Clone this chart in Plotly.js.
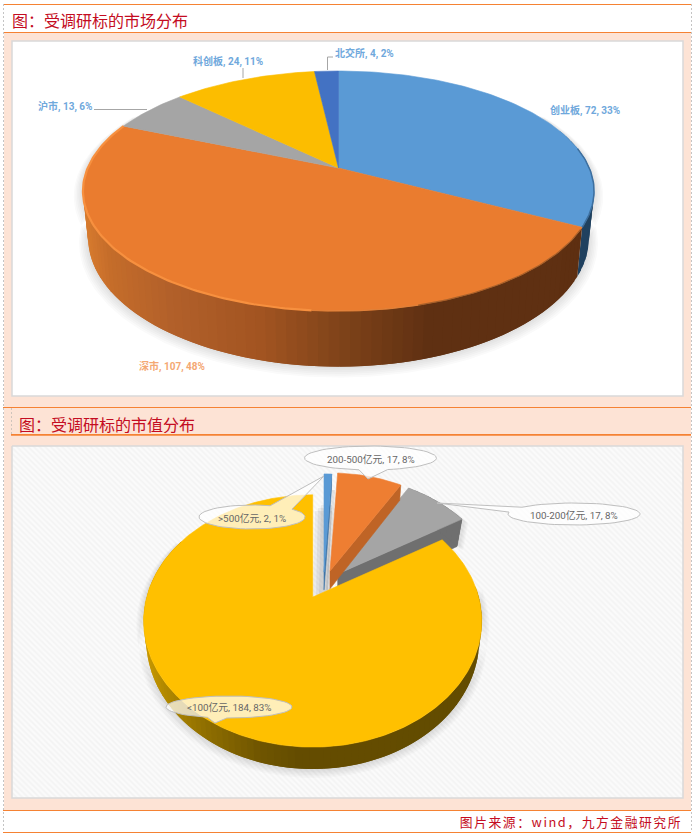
<!DOCTYPE html>
<html>
<head>
<meta charset="utf-8">
<script src="https://cdn.plot.ly/plotly-3.0.1.min.js"></script>
<style>
html,body{margin:0;padding:0;background:#fff;}
#chart{width:694px;height:837px;}
.annotation[data-index="11"] text{letter-spacing:1.55px;}
</style>
</head>
<body>
<div id="chart"></div>
<script>
// ---- data ----
var marketNames  = ['创业板', '深市', '沪市', '科创板', '北交所'];
var marketValues = [72, 107, 13, 24, 4];
var marketPct    = [33, 48, 6, 11, 2];
var marketColors = ['#5a9ad5', '#ea7c2f', '#a5a5a5', '#fcbd00', '#4372c3'];

var capNames  = ['>500亿元', '200-500亿元', '100-200亿元', '<100亿元'];
var capValues = [2, 17, 17, 184];
var capPct    = [1, 8, 8, 83];
var capColors = ['#5a9ad5', '#ee7e32', '#a5a5a5', '#ffc000'];

var title1 = '图：受调研标的市场分布';
var title2 = '图：受调研标的市值分布';
var source = '图片来源：wind，九方金融研究所';

// ---- drawing helpers ----
var traces = [], shapes = [], annotations = [];

function project(c, deg, bottom) {
  var t = deg * Math.PI / 180, u = Math.sin(t), v = Math.cos(t), d = 1 + c.k * v;
  var s = c.s || 1;
  var x = c.ax + c.A * s * u / d, y = c.ay - c.B * s * v / d;
  if (bottom) { x = c.ax + (x - c.ax) * c.m; y += c.H / d; }
  return [x, y];
}
function poly(points, fill, opts) {
  opts = opts || {};
  var xs = points.map(function (p) { return p[0]; });
  var ys = points.map(function (p) { return p[1]; });
  xs.push(xs[0]); ys.push(ys[0]);
  var t = {
    type: 'scatter', mode: 'lines', x: xs, y: ys, fill: 'toself', fillcolor: fill,
    line: { color: opts.line || fill, width: opts.lw === undefined ? 0.6 : opts.lw },
    hoverinfo: 'skip', showlegend: false
  };
  if (opts.pattern) t.fillpattern = opts.pattern;
  traces.push(t);
}
function line(xs, ys, color, width) {
  traces.push({ type: 'scatter', mode: 'lines', x: xs, y: ys, line: { color: color, width: width }, hoverinfo: 'skip', showlegend: false });
}
function arc(c, a0, a1, bottom) {
  var pts = [], n = Math.max(2, Math.ceil(Math.abs(a1 - a0)));
  for (var i = 0; i <= n; i++) pts.push(project(c, a0 + (a1 - a0) * i / n, bottom));
  return pts;
}
function arcLine(c, a0, a1, color, width) {
  var p = arc(c, a0, a1);
  line(p.map(function (q) { return q[0]; }), p.map(function (q) { return q[1]; }), color, width);
}
function topFace(c, a0, a1, color) {
  poly([[c.ax, c.ay]].concat(arc(c, a0, a1)), color);
}
function mix(stops, x) {
  var i = 0;
  if (x <= stops[0][0]) return stops[0][1];
  while (i < stops.length - 1 && x > stops[i + 1][0]) i++;
  if (i === stops.length - 1) return stops[i][1];
  var a = stops[i], b = stops[i + 1], f = (x - a[0]) / (b[0] - a[0]);
  var h = function (s, p) { return parseInt(s.substr(p, 2), 16); };
  var o = [1, 3, 5].map(function (p) { return Math.round(h(a[1], p) * (1 - f) + h(b[1], p) * f); });
  return 'rgb(' + o.join(',') + ')';
}
// strips are painted from a0 to a1, each overlapping the next, so no seam shows
function wall(c, a0, a1, stops, step) {
  for (var a = a0; a < a1 - 1e-6; a += step) {
    var e = Math.min(a + step + 2, a1);
    var top = arc(c, a, e), bot = arc(c, a, e, true).reverse();
    var midx = project(c, a + step / 2)[0];
    poly(top.concat(bot), mix(stops, midx), { lw: 0 });
  }
}
function cutWall(c, deg, color) {
  var tip = project(c, deg), tipB = project(c, deg, true);
  poly([[c.ax, c.ay], tip, tipB, [c.ax, c.ay + c.H]], color);
}
function shadow(c, a0, a1, grow, dy, alpha) {
  var g = Object.assign({}, c, { A: c.A + grow, B: c.B + grow * 0.6, ay: c.ay + dy });
  poly(arc(g, a0, a1, true).concat(arc(g, a1, a0)), 'rgba(60,60,60,' + alpha + ')', { lw: 0 });
}
function callout(cx, cy, rx, ry, tipx, tipy, a1, a2) {
  var pts = [], n = 60;
  for (var i = 0; i <= n; i++) {
    var a = (a2 + (a1 + 360 - a2) * i / n) * Math.PI / 180;
    pts.push([cx + rx * Math.cos(a), cy + ry * Math.sin(a)]);
  }
  pts.push([tipx, tipy]);
  poly(pts, 'rgba(255,255,255,0.72)', { line: '#bfbfbf', lw: 1 });
}
function cum(values) {
  var total = values.reduce(function (a, b) { return a + b; }, 0), s = 0;
  return values.map(function (v) { var a = s; s += v; return [a / total * 360, s / total * 360]; });
}
function label(x, y, text, color, size, extra) {
  annotations.push(Object.assign({
    x: x, y: y, xref: 'x', yref: 'y', text: text, showarrow: false, xanchor: 'center', yanchor: 'middle',
    font: { family: 'Roboto, "Noto Sans CJK SC", sans-serif', size: size, color: color }
  }, extra || {}));
}
function rule(x0, y0, x1, y1, color, width, dash) {
  shapes.push({ type: 'line', x0: x0, y0: y0, x1: x1, y1: y1, layer: 'below',
    line: { color: color, width: width, dash: dash || 'solid' } });
}

// ---- page frame ----
var ORANGE = '#f58233', PEACH = '#fde3d5', EDGE = '#d9d9d9';
shapes.push({ type: 'rect', x0: 4, x1: 691, y0: 33, y1: 810, fillcolor: PEACH, line: { width: 0 }, layer: 'below' });
shapes.push({ type: 'rect', x0: 12, x1: 683, y0: 41, y1: 396, fillcolor: '#ffffff', line: { color: EDGE, width: 1.5 }, layer: 'below' });
rule(3, 4.5, 691, 4.5, ORANGE, 1.2);
rule(3, 32.5, 691, 32.5, ORANGE, 1.2);
rule(3, 407.5, 691, 407.5, ORANGE, 1.2);
rule(11, 434.8, 691, 434.8, ORANGE, 1.8);
rule(3, 810.5, 691, 810.5, ORANGE, 1.2);
rule(3, 832.5, 691, 832.5, ORANGE, 1.2);
rule(3.5, 4, 3.5, 832, '#c4c4c4', 1, '2px,2px');
rule(691.5, 4, 691.5, 832, '#c4c4c4', 1, '2px,2px');
rule(11.5, 408, 11.5, 434, '#cfc4bc', 1, '2px,2px');

// second panel background
poly([[12, 446], [683, 446], [683, 798], [12, 798]], '#fafafa', {
  line: EDGE, lw: 1.5,
  pattern: { shape: '\\', fgcolor: '#f3f3f3', bgcolor: '#fbfbfb', size: 4, solidity: 0.4 }
});

// ---- chart 1: market ----
var c1 = { ax: 338.5, ay: 168, A: 250.8, B: 115.6, k: 0.1917, H: 45, m: 0.98 };
var a1 = cum(marketValues);
for (var i = 1; i <= 6; i++) shadow(c1, 60, 300, i * 1.5, i * 0.7, 0.024);
wall(c1, 70, a1[0][1], [[0, '#20415f']], 3);
wall(c1, a1[1][0], a1[1][1], [[85, '#d67a2e'], [110, '#c46c2a'], [170, '#b2602a'], [260, '#a25421'], [340, '#7f4319'], [430, '#5f3012'], [700, '#5e2f11']], 2);
marketValues.forEach(function (v, i) { topFace(c1, a1[i][0], a1[i][1], marketColors[i]); });
// soft edges of the top face: lit on the left, dark on the right
arcLine(c1, a1[1][0] + 1, 165, '#a8602a', 1.2);
arcLine(c1, 165, 185, '#e08038', 1.2);
arcLine(c1, 185, a1[1][1], '#f7903f', 2.2);
arcLine(c1, 80, a1[0][1], '#3d6f9f', 1.5);

// leader lines
line([94, 147], [109.5, 109.5], '#a6a6a6', 1);
line([243, 243], [68, 78], '#a6a6a6', 1);
line([333, 327.5, 327.5], [57, 57, 70], '#a6a6a6', 1);

var LABEL_POS_1 = [[584.5, 110], [172, 366], [65, 106], [227.5, 61.5], [364.5, 53]];
marketNames.forEach(function (n, i) {
  var color = i === 1 ? '#f4a873' : '#6fa8dc';
  label(LABEL_POS_1[i][0], LABEL_POS_1[i][1], '<b>' + n + ', ' + marketValues[i] + ', ' + marketPct[i] + '%</b>', color, 10);
});

// ---- chart 2: market cap ----
var base2 = { A: 166, B: 121.6, k: 0.19, H: 17.8, m: 0.985 };
var a2 = cum(capValues);
var s2 = [
  Object.assign({}, base2, { ax: 324, ay: 572, s: 0.96 }),
  Object.assign({}, base2, { ax: 330, ay: 571, s: 0.96 }),
  Object.assign({}, base2, { ax: 337.7, ay: 574, s: 0.96, H: 30, m: 0.96 }),
  Object.assign({}, base2, { ax: 312.7, ay: 597 })
];
// shadows
for (i = 1; i <= 6; i++) shadow(s2[3], 85, 300, i * 1.2, i * 0.6, 0.026);
for (i = 1; i <= 4; i++) shadow(s2[2], 45, 60, i * 1.5, i * 1, 0.03);
[[9, 8, 4, 11], [6, 8, 4, 8], [3, 8, 4, 5]].forEach(function (w) {
  poly([[s2[0].ax - w[0], 502 + w[0]], [s2[0].ax + w[1], 502 + w[0]], [s2[0].ax + w[2], 590], [s2[0].ax - w[3], 596]], 'rgba(120,120,120,0.11)', { lw: 0 });
});
poly([[s2[1].ax + 2, 490], [s2[1].ax + 5, 490], [s2[1].ax, 590], [s2[1].ax - 4, 590]], 'rgba(120,120,120,0.18)', { lw: 0 });

// gray
cutWall(s2[2], a2[2][1], '#6f6f6f');
wall(s2[2], a2[2][0], a2[2][1], [[0, '#6f6f6f']], 3);
topFace(s2[2], a2[2][0], a2[2][1], capColors[2]);
// orange
cutWall(s2[1], a2[1][1], '#bf6426');
topFace(s2[1], a2[1][0], a2[1][1], capColors[1]);
// blue
cutWall(s2[0], a2[0][1], '#3f75a8');
topFace(s2[0], a2[0][0], a2[0][1], capColors[0]);
// yellow
wall(s2[3], 85, 300, [[145, '#c89800'], [165, '#b08800'], [205, '#8f6e00'], [260, '#6f5500'], [300, '#644c00'], [700, '#624b00']], 2);
topFace(s2[3], a2[3][0], a2[3][1], capColors[3]);

// callouts
callout(252, 517, 53, 12, 324, 476, -70, -41);
callout(370.5, 458, 66, 12, 368, 479, 75, 100);
callout(574, 514, 66, 11, 437, 503, 190, 218);
callout(229, 707, 63, 11, 215, 723, 92, 110);

var LABEL_POS_2 = [[252, 517.5], [370.5, 458.5], [574, 514.5], [229, 707]];
capNames.forEach(function (n, i) {
  label(LABEL_POS_2[i][0], LABEL_POS_2[i][1], n.replace('<', '&lt;') + ', ' + capValues[i] + ', ' + capPct[i] + '%', '#666666', 9.8);
});

// ---- titles ----
var TITLE_FONT = '"Noto Sans CJK SC", sans-serif', RED = '#c40c22';
label(9.5, 20, title1, RED, 16, { xanchor: 'left', font: { family: TITLE_FONT, size: 16, color: RED } });
label(16.5, 423.5, title2, RED, 16, { xanchor: 'left', font: { family: TITLE_FONT, size: 16, color: RED } });
label(671, 821, source, RED, 12.8, { xanchor: 'right', font: { family: TITLE_FONT, size: 12.8, color: RED } });

// ---- plot ----
Plotly.newPlot('chart', traces, {
  width: 694, height: 837,
  margin: { l: 0, r: 0, t: 0, b: 0, pad: 0 },
  paper_bgcolor: '#ffffff', plot_bgcolor: 'rgba(0,0,0,0)',
  showlegend: false, hovermode: false,
  xaxis: { range: [0, 694], visible: false, fixedrange: true },
  yaxis: { range: [837, 0], visible: false, fixedrange: true },
  shapes: shapes, annotations: annotations
}, { displayModeBar: false, staticPlot: true });
</script>
</body>
</html>
